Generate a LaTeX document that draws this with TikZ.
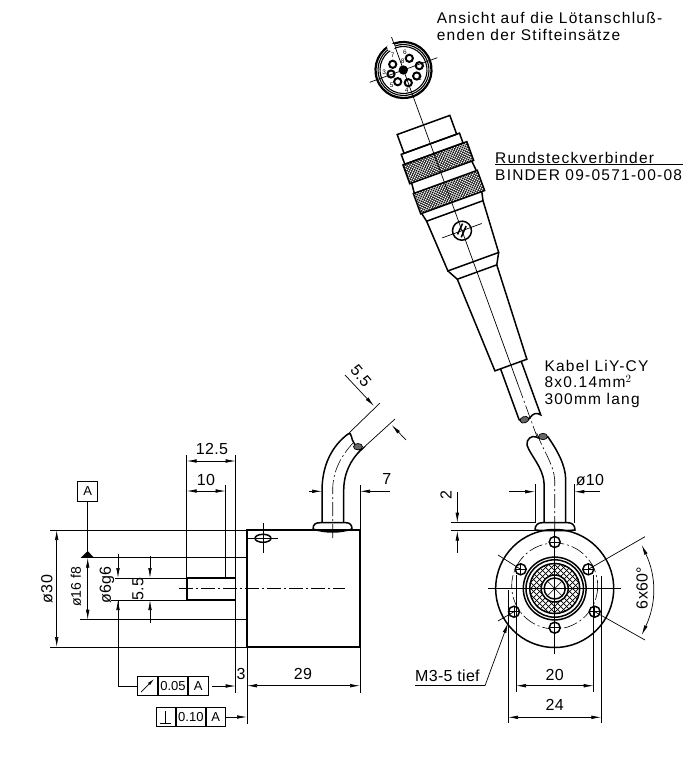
\documentclass[tikz,border=0pt]{standalone}
\usepackage{fontspec}
\usepackage{tikz}
\usetikzlibrary{arrows.meta,calc}
\newfontfamily\notefont[LetterSpace=8]{Liberation Sans}
\newfontfamily\dimfont[LetterSpace=2]{Liberation Sans}
\newfontfamily\tolfont{Liberation Sans}

\tikzset{
  thickline/.style={line width=1.5pt},
  thinline/.style={line width=0.7pt},
  hairline/.style={line width=0.5pt},
  axisline/.style={line width=0.6pt, dash pattern=on 14pt off 3pt on 2pt off 3pt},
  dimline/.style={thinline, {Latex[length=10pt,width=3.6pt]}-{Latex[length=10pt,width=3.6pt]}},
  dimarrow/.style={thinline, -{Latex[length=10pt,width=3.6pt]}},
  notetext/.style={anchor=base west, inner sep=0, font=\notefont\fontsize{15.5}{16}\selectfont},
  dimtext/.style={inner sep=0, font=\dimfont\fontsize{16}{16}\selectfont},
  pintext/.style={inner sep=0, font=\tolfont\fontsize{6.5}{6.5}\selectfont},
  tolcell/.style={draw, thinline, inner sep=0, minimum height=19.5pt, font=\tolfont\fontsize{13}{13}\selectfont},
}

\begin{document}
\begin{tikzpicture}[x=1pt,y=-1pt]
  \useasboundingbox (0,0) rectangle (695,761);

  % side view
  \draw[thickline] (247,530) rectangle (360,647);
  \draw[thickline] (235.7,557.7) rectangle (247,619.7);
  \draw[thickline] (187,578) rectangle (235.7,600);
  \draw[line width=2.2pt] (187,578) -- (187,600);
  \draw[line width=1.9pt] (187,578) -- (225.7,578);
  \draw[axisline] (179,588.7) -- (345,588.7);

  % mounting screw
  \draw[thickline] (263,538.3) ellipse[x radius=8, y radius=4];
  \draw[thinline] (248,538.3) -- (278,538.3);
  \draw[thinline] (263,523) -- (263,553);

  % cable, side view
  \draw[thickline] (322,522.7) -- (322,491) .. controls (322,465) and (332,446) .. (348,434)
    .. controls (352,431) and (351,440) .. (354,443) .. controls (356,447) and (360,452) .. (362,449)
    .. controls (350,460) and (343.7,474) .. (343.7,491) -- (343.7,522.7);
  \draw[thinline, fill=black!60] (358,446.7) ellipse[x radius=4.5, y radius=3.2];
  \draw[thickline] (313,529) .. controls (313,524) and (316,522.7) .. (320,522.7) -- (346,522.7)
    .. controls (350,522.7) and (352,525) .. (352,529) .. controls (340,533) and (325,533) .. (313,529);
  \draw[axisline] (332.7,538) -- (332.7,490) .. controls (332.7,470) and (342,455) .. (353,443);

  % side view dimensions
  \draw[thinline] (50,530) -- (247,530);
  \draw[thinline] (50,647) -- (247,647);
  \draw[dimline] (56.7,530) -- (56.7,647);
  \node[dimtext, rotate=90] (dThirty) at (47,589) {ø30};

  \draw[thinline] (80,619.7) -- (235.7,619.7);
  \draw[thinline] (81,557.7) -- (235.7,557.7);
  \draw[dimline] (87.7,557.7) -- (87.7,619.7);
  \node[dimtext, rotate=90, font=\tolfont\fontsize{14}{14}\selectfont] (dSixteen) at (76,587) {ø16 f8};

  \draw[thinline] (115,578) -- (187,578);
  \draw[thinline] (111,600) -- (187,600);
  \coordinate (runoutTop) at (118,554);
  \draw[dimarrow] (runoutTop) -- (118,578);
  \node[dimtext, rotate=90] (dSix) at (107,585) {ø6g6};

  \draw[dimarrow] (150,556) -- (150,578);
  \draw[dimarrow] (150,623) -- (150,600);
  \node[dimtext, rotate=90] (dShaft) at (138,589) {5.5};

  \draw[thinline] (186.7,455) -- (186.7,578);
  \draw[thinline] (235.7,455) -- (235.7,557.7);
  \draw[thinline] (225.7,485) -- (225.7,578);
  \draw[dimline] (186.7,461) -- (235.7,461);
  \node[dimtext] (dTwelve) at (212,449) {12.5};
  \draw[dimline] (186.7,491) -- (225.7,491);
  \node[dimtext] (dTen) at (206,480) {10};

  \draw[thinline] (235.7,619.7) -- (235.7,693);
  \draw[thinline] (247,647) -- (247,724);
  \draw[thinline] (360,647) -- (360,693);
  \node[dimtext] (dThree) at (241,674) {3};
  \draw[dimline] (247,685.7) -- (360,685.7);
  \node[dimtext] (dBody) at (303,674) {29};

  % datum and tolerance frames
  \node[tolcell, minimum width=20pt, minimum height=20pt] (datum) at (87.7,491) {A};
  \coordinate (datumTip) at (87.7,551);
  \draw[thinline] (datum) -- (datumTip);
  \fill (81,557.7) -- (datumTip) -- (94,557.7) -- cycle;

  \node[tolcell, minimum width=20pt, anchor=west] (runoutSym) at (137.3,686) {};
  \node[tolcell, minimum width=29.3pt, anchor=west] (runoutVal) at (runoutSym.east) {0.05};
  \node[tolcell, minimum width=19.7pt, anchor=west] (runoutRef) at (runoutVal.east) {A};
  \draw[thinline, -{Latex[length=7pt,width=3pt]}] (141,692) -- (154,679);
  \draw[thinline] (runoutSym.west) -- (118,686) -- (118,600);
  \draw[dimarrow] (118,686) -- (118,600);
  \draw[dimarrow] (212.3,686) -- (235.7,686);

  \node[tolcell, minimum width=19.6pt, anchor=west] (perpSym) at (155.7,717) {};
  \node[tolcell, minimum width=29pt, anchor=west] (perpVal) at (perpSym.east) {0.10};
  \node[tolcell, minimum width=19.4pt, anchor=west] (perpRef) at (perpVal.east) {A};
  \draw[thinline] (160,723) -- (171,723);
  \draw[thinline] (165.5,723) -- (165.5,711);
  \draw[dimarrow] (perpRef.east) -- (247,717);

  % cable dimensions, side view
  \draw[thinline] (348,434) -- (380,403);
  \draw[thinline] (362,449) -- (395,419);
  \draw[dimarrow] (345,375) -- (374,406);
  \draw[dimarrow] (406,440) -- (391.7,425);
  \node[dimtext, rotate=-50, font=\tolfont\fontsize{16}{16}\selectfont] (dCable) at (361,376) {5.5};
  \draw[thinline] (360,485) -- (360,530);
  \draw[dimarrow] (309,491.3) -- (322,491.3);
  \draw[dimarrow] (390,491.3) -- (360,491.3);
  \node[dimtext] (dSeven) at (386.7,479) {7};

  % end view
  \coordinate (c) at (554.7,588.5);
  \draw[thickline] (c) circle[radius=59];
  \draw[axisline] (554.7,586) circle[radius=43];
  \draw[thickline] (c) circle[radius=31.4];
  \draw[thickline] (c) circle[radius=28.7];
  \begin{scope}
    \clip (c) circle[radius=25];
    \foreach \i in {-60,-54,...,60} {
      \draw[thinline] ($(c)+(\i,0)+(-30,-30)$) -- ++(60,60);
      \draw[thinline] ($(c)+(\i,0)+(-30,30)$) -- ++(60,-60);
    }
  \end{scope}
  \draw[thickline, fill=white] (c) circle[radius=13.5];
  \draw[thickline] (c) circle[radius=10.5];
  \draw[thickline] (c) circle[radius=25];
  \foreach \a in {45,135,225,315} \draw[hairline] (c) -- ++(\a:10.5);
  \draw[thinline] (488,588.5) -- (621,588.5);
  \draw[thinline] (554.7,530) -- (554.7,654);
  \foreach \hx/\hy in {554.7/542,554.7/627.7,520.7/569.3,588.3/569.3,514/611.7,594.7/611.7} {
    \draw[thickline, fill=white] (\hx,\hy) circle[radius=5.5];
    \draw[hairline] (\hx-5.5,\hy) -- (\hx+5.5,\hy);
    \draw[hairline] (\hx,\hy-5.5) -- (\hx,\hy+5.5);
  }

  % angle
  \draw[thinline] (498,555) -- (520.7,569.3);
  \draw[thinline] (498,621) -- (514,611.7);
  \draw[thinline] (588.3,569.3) -- (645,536.7);
  \draw[thinline] (594.7,611.7) -- (645,640);
  \draw[dimline] (641.7,545) to[bend left=25] (641.7,635);
  \node[dimtext, rotate=90] (dAngle) at (642,588) {6x60°};

  % end view dimensions
  \node[dimtext, anchor=base west] (holeNote) at (415,681) {M3-5 tief};
  \coordinate (holeLeader) at (485,685.7);
  \draw[thinline] (415,685.7) -- (holeLeader);
  \draw[dimarrow] (holeLeader) -- (508,623);
  \draw[thinline] (516,575) -- (516,692);
  \draw[thinline] (593.7,575) -- (593.7,692);
  \draw[dimline] (516,685.7) -- (593.7,685.7);
  \node[dimtext] (dTwenty) at (554.7,675) {20};
  \draw[thinline] (508,590) -- (508,723);
  \draw[thinline] (601.3,576) -- (601.3,723);
  \draw[dimline] (508,717.3) -- (601.3,717.3);
  \node[dimtext] (dTwentyFour) at (554.7,705) {24};

  % cable, end view
  \draw[thickline] (544,522.7) -- (544,483) .. controls (543,467) and (530,455) .. (527,445)
    .. controls (526,439) and (532,435) .. (536,437) .. controls (540,439) and (544,438) .. (548,437)
    .. controls (557,450) and (565.7,465) .. (565.7,480) -- (565.7,522.7);
  \draw[thinline, fill=black!60] (543,436.5) ellipse[x radius=4.5, y radius=3.2];
  \draw[thickline] (535,530) .. controls (535,525) and (538,522.7) .. (542,522.7) -- (568,522.7)
    .. controls (572,522.7) and (575,525) .. (575,530) .. controls (565,531) and (545,531) .. (535,530);
  \draw[axisline] (554.7,530) -- (554.7,480) .. controls (554,465) and (543,450) .. (536.7,433);
  \draw[thinline] (535,484) -- (535,523);
  \draw[thinline] (574.3,484) -- (574.3,523);
  \draw[dimarrow] (509,491.7) -- (535,491.7);
  \draw[dimarrow] (600,491.7) -- (574.3,491.7);
  \node[dimtext] (dTenCable) at (590,480) {ø10};
  \draw[thinline] (450.7,522.7) -- (535,522.7);
  \draw[thinline] (450.7,530.7) -- (535,530.7);
  \draw[dimarrow] (457.3,492) -- (457.3,522.7);
  \draw[dimarrow] (457.3,553) -- (457.3,530.7);
  \node[dimtext, rotate=90] (dTwo) at (446,495) {2};

  % connector
  \begin{scope}[shift={(403.5,70)}, rotate=20]
    \draw[thickline] (-28,58.5) rectangle (28,78.5);
    \draw[thickline] (-31,78.5) rectangle (31,89);
    \foreach \ta/\tb in {89/109,119.5/141} {
      \begin{scope}
        \clip (-33,\ta) rectangle (35,\tb);
        \foreach \i in {-70,-67,...,70} {
          \draw[hairline] (\i,\ta-20) -- ++(60,60);
          \draw[hairline] (\i,\ta+40) -- ++(60,-60);
        }
      \end{scope}
      \draw[thickline] (-33,\ta) rectangle (35,\tb);
    }
    \draw[thickline] (-31,109) -- (-32,119.5);
    \draw[thickline] (33,109) -- (34,119.5);
    \draw[thickline] (-32,141) -- (-30,150) -- (30,150) -- (32,141);
    \draw[thickline] (-30,150) -- (-27,204) -- (27,204) -- (30,150);
    \draw[thickline] (-27,204) -- (-21,215) -- (21,215) -- (27,204);
    \draw[thickline] (-21,215) -- (-17,314) -- (17,314) -- (21,215);
    \draw[thickline] (-11,314) -- (-11,368) .. controls (-9,373) and (-3,372) .. (0,370) .. controls (4,367) and (8,367) .. (11,371) -- (11,314);
    \draw[thinline, fill=black!60] (-6,370) ellipse[x radius=4.5, y radius=3.2];
    \draw[thinline] (0,-35) -- (0,335);
    \draw[axisline] (0,335) -- (0,392);
    % locking screw
    \draw[thickline, fill=white] (0,171) circle[radius=9.5];
    \draw[thinline] (-21,171) -- (21,171);
    \draw[thinline] (0,161.5) -- (0,180.5);
    \draw[thickline] (-5.5,173) -- (3,164.5);
    \draw[thickline] (-3,177) -- (5.5,168);
    % rear view circle
    \draw[thinline] (-36,0) -- (36,0);
    \draw[line width=2.2pt] (0,0) circle[radius=28];
    \draw[line width=1.1pt] (0,0) circle[radius=25.5];
    \draw[line width=1.1pt] (0,0) circle[radius=23.5];
  \end{scope}

  % rear view pins
  \fill[white] (391,47) circle[radius=4];
  \foreach \px/\py in {392.7/64.3,409.3/58.3,419.3/65.7,416.7/76,408.3/82.7,397.7/81.7,391/74,403.3/70} {
    \draw[line width=2pt] (\px,\py) circle[radius=3.6];
  }
  \fill (403.3,70) circle[radius=4];
  \foreach \nx/\ny/\nt in {423/65/1,420/78/2,384.3/72.7/3,406.7/90/4,391.7/85/5,405/52.7/6,392.7/55/7,402.7/61.7/8} {
    \node[pintext] at (\nx,\ny) {\nt};
  }

  % notes
  \node[notetext] (noteView) at (436.7,23) {Ansicht auf die Lötanschluß-};
  \node[notetext] (noteViewB) at (436.7,40) {enden der Stifteinsätze};
  \node[notetext] (noteConn) at (495,163) {Rundsteckverbinder};
  \draw[thinline] (495,164.5) -- (683,164.5);
  \node[notetext] (noteType) at (495,180.7) {BINDER 09-0571-00-08};
  \node[notetext] (noteCable) at (544.3,371.7) {Kabel LiY-CY};
  \node[notetext] (noteCableB) at (544.3,387.3) {8x0.14mm$^2$};
  \node[notetext] (noteCableC) at (544.3,404) {300mm lang};
\end{tikzpicture}
\end{document}
